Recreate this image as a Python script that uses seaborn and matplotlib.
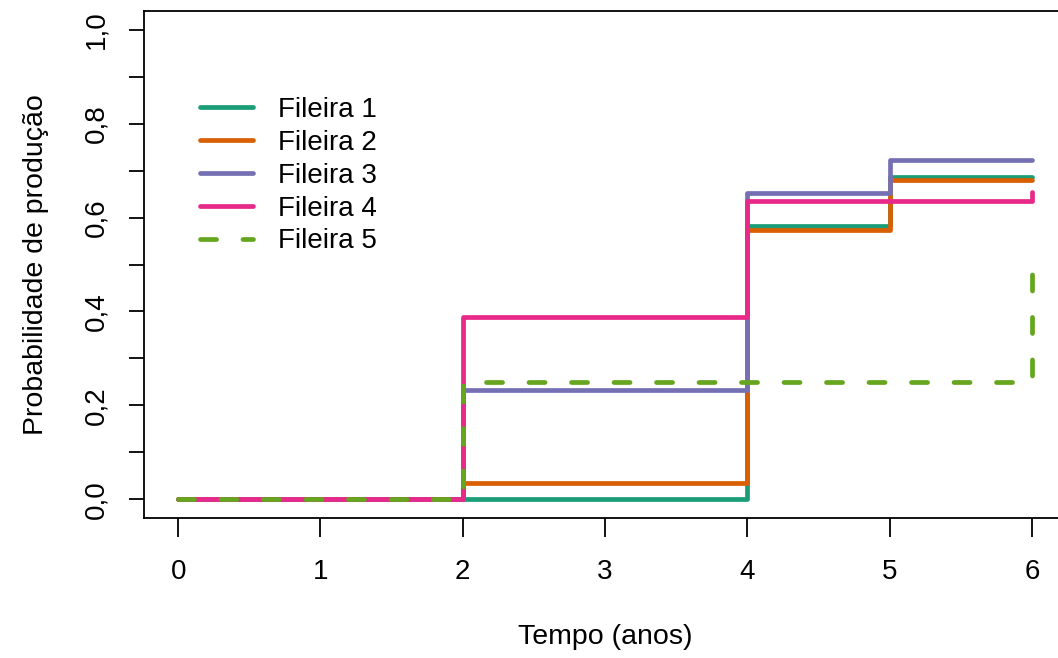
import numpy as np
import pandas as pd
import matplotlib
matplotlib.use("Agg")
import matplotlib.pyplot as plt
import seaborn as sns

# Survival-type step curves: probability of production over time, per row
tempo = [0, 2, 4, 5, 6]
fileira_1 = [0.0, 0.0, 0.582, 0.687, 0.687]
fileira_2 = [0.0, 0.034, 0.574, 0.681, 0.681]
fileira_3 = [0.0, 0.233, 0.652, 0.722, 0.722]
fileira_4 = [0.0, 0.388, 0.635, 0.635, 0.655]
fileira_5 = [0.0, 0.25, 0.25, 0.25, 0.505]

nomes = ["Fileira 1", "Fileira 2", "Fileira 3", "Fileira 4", "Fileira 5"]
cores = ["#1B9E77", "#D95F02", "#7570B3", "#E7298A", "#66A61E"]
x_ticks = [0, 1, 2, 3, 4, 5, 6]
y_ticks = [0.0, 0.1, 0.2, 0.3, 0.4, 0.5, 0.6, 0.7, 0.8, 0.9, 1.0]

sns.set_style("white")
plt.rcParams["font.family"] = ["Liberation Sans", "DejaVu Sans"]
plt.rcParams["text.color"] = "black"
plt.rcParams["axes.labelcolor"] = "black"

FS = 20
FS_LAB = 20.5

fig = plt.figure(figsize=(10.58, 6.58), dpi=100)
ax = fig.add_axes([144 / 1058, 140 / 658, 922 / 1058, 507 / 658])

series = [fileira_1, fileira_2, fileira_3, fileira_4, fileira_5]
lw = 3.4
for nome, cor, vals in zip(nomes, cores, series):
    df = pd.DataFrame({"tempo": tempo, "prob": vals})
    kw = dict(color=cor, linewidth=lw, drawstyle="steps-post",
              solid_capstyle="round", dash_capstyle="round",
              solid_joinstyle="round", dash_joinstyle="round", label=nome)
    if nome == "Fileira 5":
        kw["dashes"] = (3.4, 5.6)
    sns.lineplot(data=df, x="tempo", y="prob", ax=ax, legend=False, **kw)

ax.set_xlim(-0.24, 6.24)
ax.set_ylim(-0.04, 1.04)
ax.set_xticks(x_ticks)
ax.set_xticklabels([str(t) for t in x_ticks], fontsize=FS)
ax.set_yticks(y_ticks)
ylabels = [f"{v:.1f}".replace(".", ",") if round(v * 10) % 2 == 0 else "" for v in y_ticks]
ax.set_yticklabels(ylabels, fontsize=FS, rotation=90, va="center")
ax.tick_params(axis="x", bottom=True, direction="out", length=13.5, width=1.3,
               pad=16, colors="black", labelcolor="black")
ax.tick_params(axis="y", left=True, direction="out", length=11, width=1.3,
               pad=14, colors="black", labelcolor="black")
for s in ["left", "bottom", "top", "right"]:
    ax.spines[s].set_visible(True)
    ax.spines[s].set_color("black")
    ax.spines[s].set_linewidth(1.3)

ax.set_xlabel("Tempo (anos)", fontsize=FS_LAB, labelpad=28, color="black")
ax.set_ylabel("Probabilidade de produção", fontsize=FS_LAB, labelpad=25, color="black")

handles = ax.get_lines()[:5]
leg = ax.legend(handles, nomes, loc="upper left", bbox_to_anchor=(0.061, 0.830),
                frameon=False, fontsize=FS, handlelength=1.9, handletextpad=0.9,
                labelspacing=0.245, borderpad=0, borderaxespad=0)
for t in leg.get_texts():
    t.set_color("black")

fig.savefig("out.png", dpi=100, facecolor="white")
